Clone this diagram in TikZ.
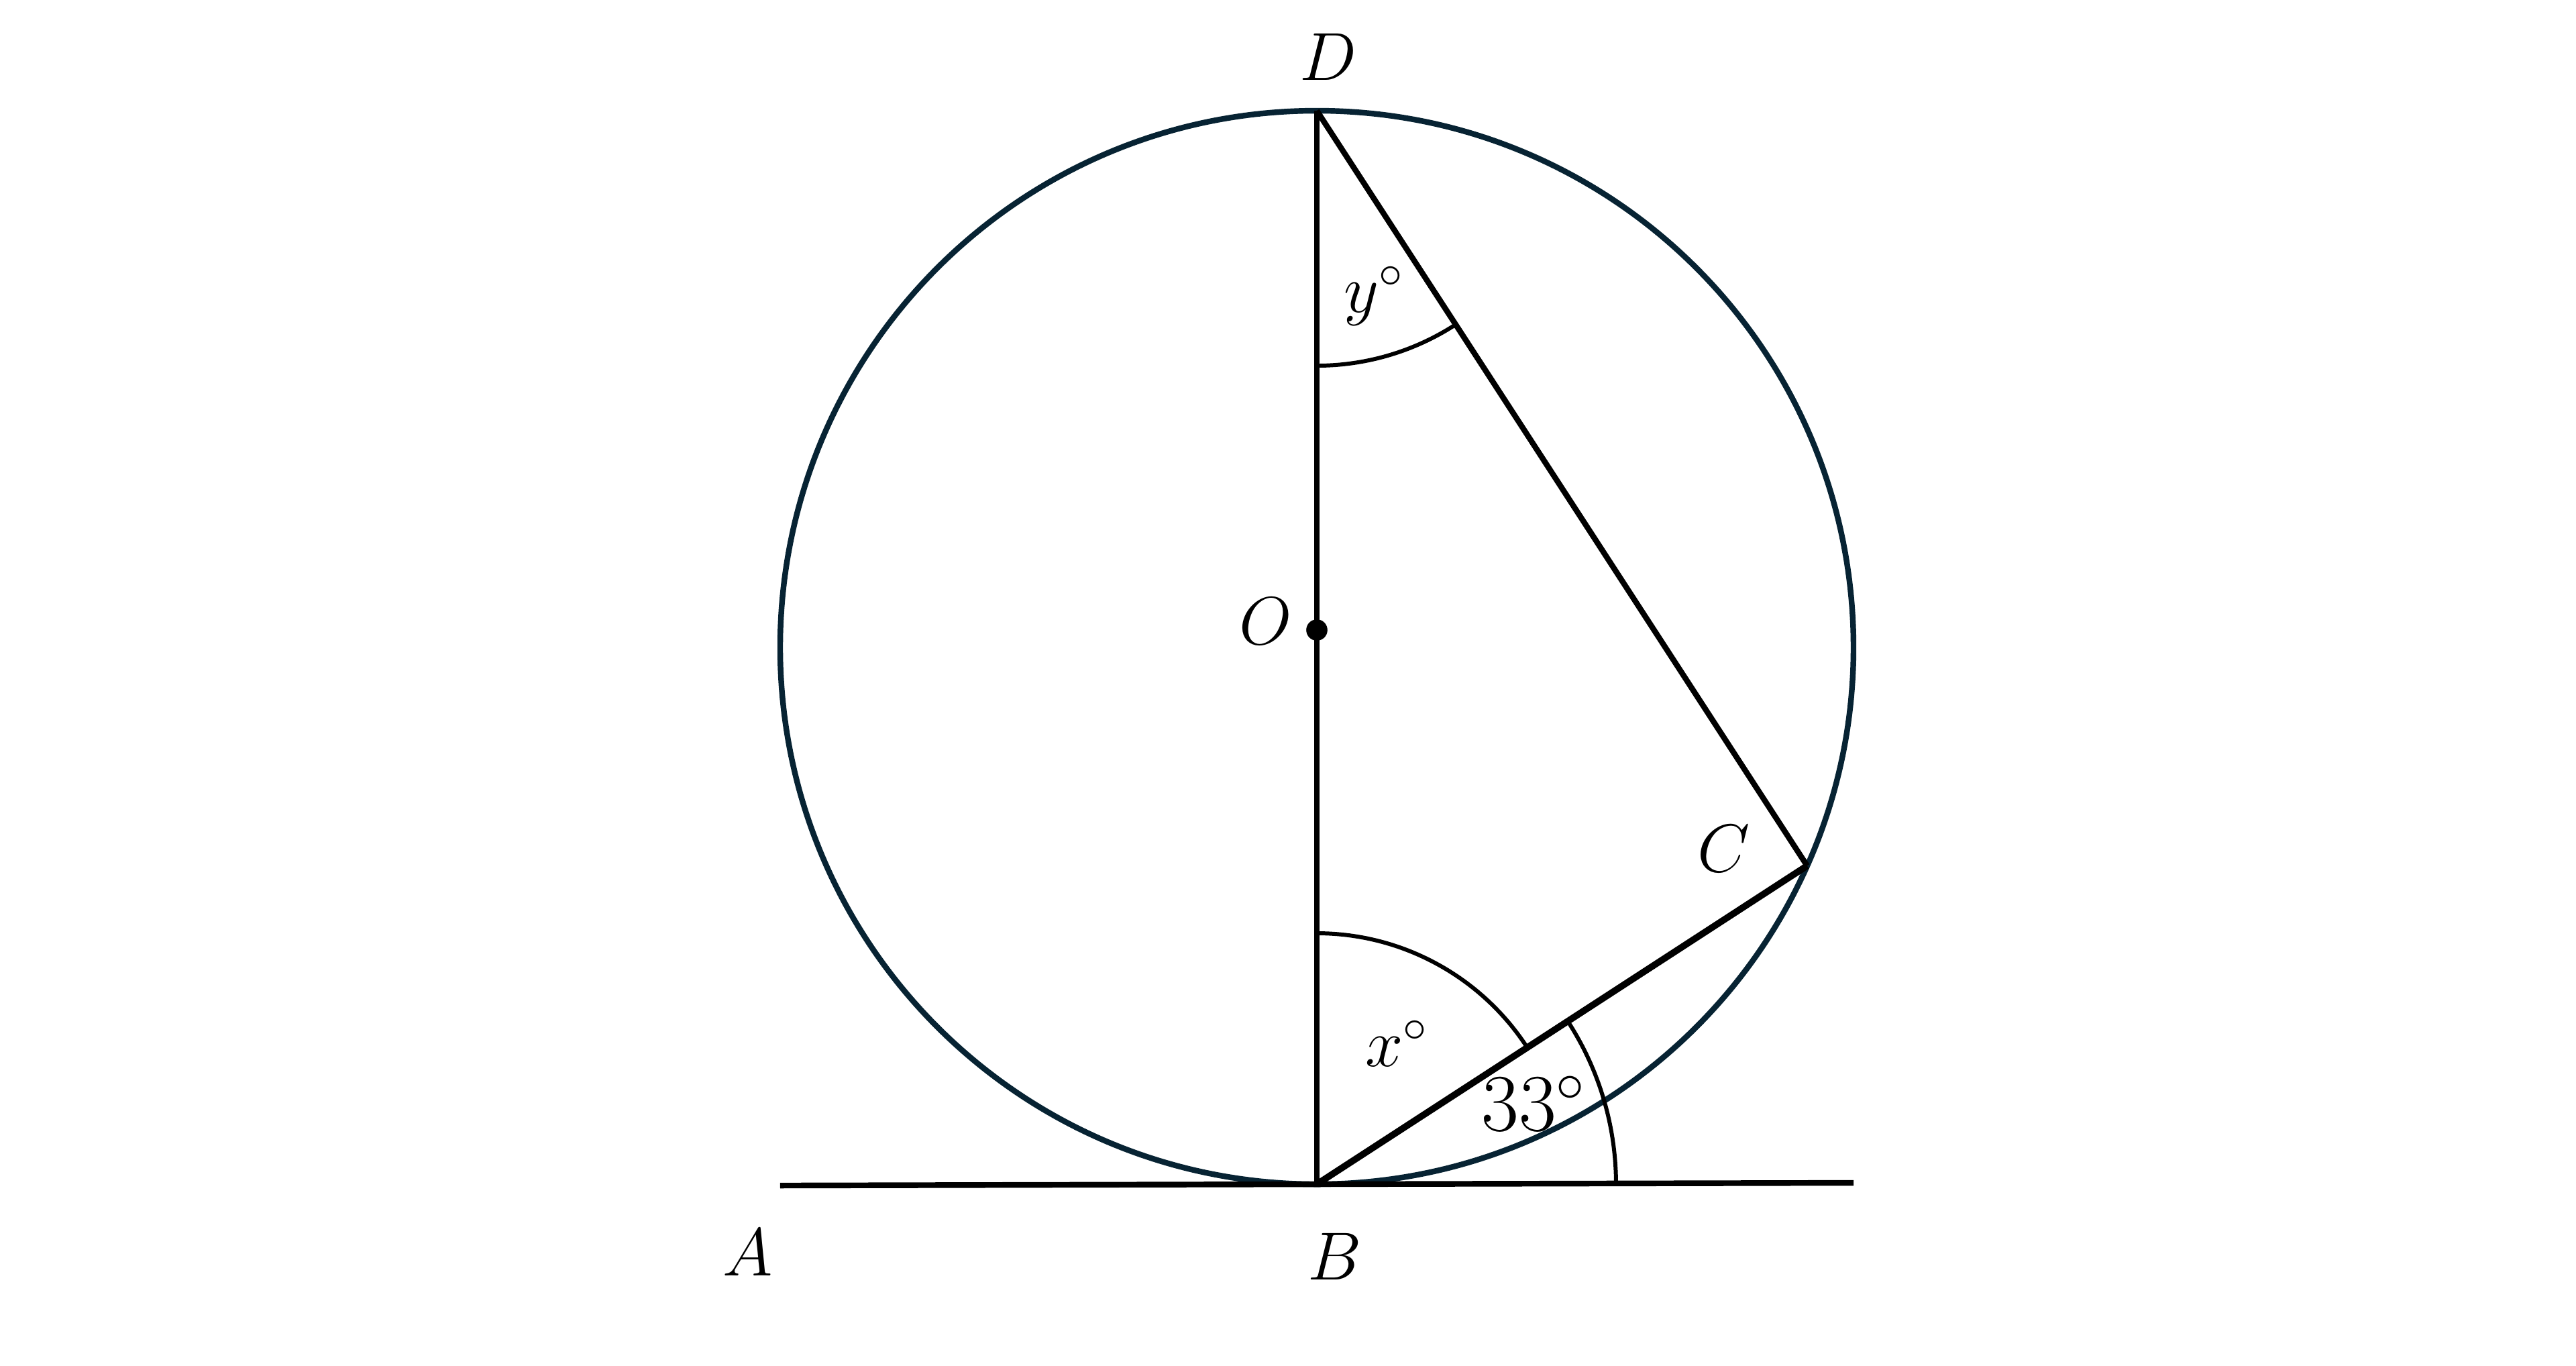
\documentclass[tikz,border=0pt]{standalone}
\usetikzlibrary{angles, calc}
\definecolor{rim}{HTML}{072333}
\tikzset{circ/.style={line width=1.2pt, rim}}
\tikzset{line/.style={line width=1.2pt, black}}
\tikzset{arcline/.style={draw, line width=0.85pt}}

\begin{document}
\begin{tikzpicture}[font=\fontsize{14.5}{17}\selectfont]
		\useasboundingbox (-9.815,-5.35) rectangle (9.385,4.825);
		% Coordinates
		\coordinate (M) at (0,0);
		\coordinate (O) at (0,0.13);
		\coordinate (D) at (0,4);
		\coordinate (B) at (0,-4);
		\coordinate (C) at ({4*cos(-24)},{4*sin(-24)});
		\coordinate (A) at (-4,-4.01);
		\coordinate (T) at (4,-3.99);

		% Circle
		\draw[circ] (M) circle (4);

		% Lines
		\draw[line] (A) -- (T);
		\draw[line] (D) -- (B);
		\draw[line] (D) -- (C);
		\draw[line, line width=1.4pt] (B) -- (C);
		\fill (O) circle (0.079);

		% Angles
		\pic[arcline, angle radius=1.87cm] {angle=C--B--D};
		\pic[arcline, angle radius=2.23cm] {angle=T--B--C};
		\pic[arcline, angle radius=1.9cm] {angle=B--D--C};

		% Labels
		\node (lD) at (0.086,4.40) {$D$};
		\node (lO) at (-0.38,0.196) {$O$};
		\node (lC) at (3.035,-1.50) {$C$};
		\node (lA) at (-4.24,-4.51) {$A$};
		\node (lB) at (0.135,-4.54) {$B$};
		\node (lx) at (0.60,-2.95) {$x^\circ$};
		\node[font=\fontsize{16.5}{19}\selectfont] (l33) at (1.62,-3.40) {$33^\circ$};
		\node (ly) at (0.43,2.62) {$y^\circ$};
	\end{tikzpicture}
\end{document}
